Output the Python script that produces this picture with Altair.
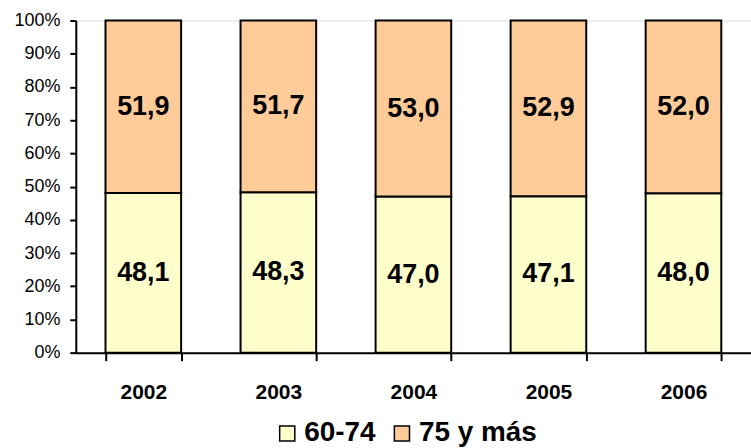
import altair as alt
import pandas as pd

years = ["2002", "2003", "2004", "2005", "2006"]
group_young = "60-74"
group_old = "75 y más"
share_young = [48.1, 48.3, 47.0, 47.1, 48.0]
share_old = [51.9, 51.7, 53.0, 52.9, 52.0]

rows = []
for i, y in enumerate(years):
    rows.append({"year": y, "group": group_young, "order": 0, "value": share_young[i]})
    rows.append({"year": y, "group": group_old, "order": 1, "value": share_old[i]})
df = pd.DataFrame(rows)
df["label"] = df["value"].map(lambda v: f"{v:.1f}".replace(".", ","))

FONT = "Liberation Sans"

base = alt.Chart(df).transform_stack(
    stack="value", groupby=["year"], as_=["y0", "y1"],
    sort=[alt.SortField("order", order="ascending")],
).transform_calculate(mid="(datum.y0 + datum.y1) / 2")

x_scale = alt.Scale(paddingInner=0.44, paddingOuter=0.22)
x_axis = alt.Axis(
    labelFont=FONT, labelFontSize=21, labelFontWeight="bold", labelColor="black",
    labelPadding=21, tickBand="extent", tickSize=8, tickColor="black",
    tickWidth=2, domainColor="black", domainWidth=2, labelAngle=0,
)
y_scale = alt.Scale(domain=[0, 100], nice=False)
y_axis = alt.Axis(
    values=list(range(0, 101, 10)), labelExpr="datum.value + '%'",
    labelOverlap=False, labelFont=FONT, labelFontSize=18, labelColor="black",
    labelPadding=10, tickSize=6, tickColor="black", tickWidth=2,
    domainColor="black", domainWidth=2, grid=False,
)

bars = base.mark_bar(stroke="black", strokeWidth=2).encode(
    x=alt.X("year:N", title=None, scale=x_scale, axis=x_axis),
    y=alt.Y("y0:Q", title=None, scale=y_scale, axis=y_axis),
    y2="y1:Q",
    color=alt.Color(
        "group:N", title=None,
        scale=alt.Scale(domain=[group_young, group_old], range=["#FFFFCC", "#FFCC99"]),
        legend=alt.Legend(
            orient="none", legendX=198, legendY=400, direction="horizontal",
            symbolType="square", symbolSize=230, symbolStrokeColor="black",
            symbolStrokeWidth=1.5, labelFont=FONT, labelFontSize=28,
            labelFontWeight="bold", labelColor="black", columnPadding=12,
            labelOffset=3, padding=0,
        ),
    ),
)

labels = base.mark_text(
    font=FONT, fontSize=27, fontWeight="bold", color="black", baseline="middle"
).encode(
    x=alt.X("year:N", title=None, scale=x_scale, axis=x_axis),
    y=alt.Y("mid:Q", title=None, scale=y_scale, axis=y_axis),
    text="label:N",
)

chart = (bars + labels).properties(
    width=677, height=333,
    autosize=alt.AutoSizeParams(type="none"),
    padding={"left": 76, "top": 20, "right": 0, "bottom": 95},
).configure_view(stroke="transparent").configure_axis(grid=False).configure(background="white")

chart.save("out.html", embed_options={"renderer": "svg", "actions": False})
